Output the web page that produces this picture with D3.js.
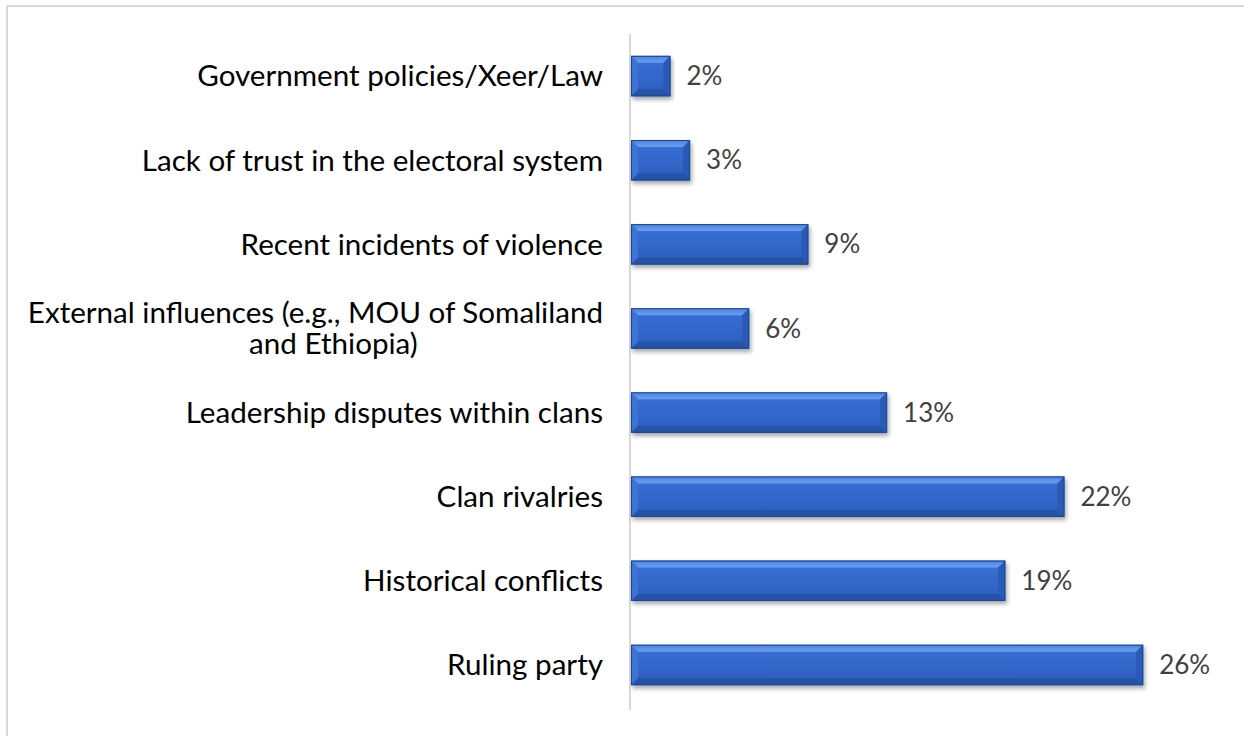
<!DOCTYPE html>
<html>
<head>
<meta charset="utf-8">
<script src="https://cdn.jsdelivr.net/npm/d3@7"></script>
<style>
  html, body { margin: 0; padding: 0; background: #fff; }
  svg { display: block; }
</style>
</head>
<body>
<svg id="chart" width="1244" height="736"></svg>
<script>
// Factors driving conflict, share of responses (top to bottom)
const categories = [
  "Government policies/Xeer/Law",
  "Lack of trust in the electoral system",
  "Recent incidents of violence",
  "External influences (e.g., MOU of Somaliland|and Ethiopia)",
  "Leadership disputes within clans",
  "Clan rivalries",
  "Historical conflicts",
  "Ruling party"
];
const values = [0.02, 0.03, 0.09, 0.06, 0.13, 0.22, 0.19, 0.26];
const valueLabels = ["2%", "3%", "9%", "6%", "13%", "22%", "19%", "26%"];

const svg = d3.select("#chart");
const FONT = "Lato, 'Open Sans', sans-serif";

// outer frame (only top and left edges fall inside the canvas)
svg.append("path")
  .attr("d", "M7,736 L7,6 L1244,6")
  .attr("fill", "none")
  .attr("stroke", "#d9d9d9")
  .attr("stroke-width", 2);

const x0 = 631, y0 = 34, y1 = 707;
const x = d3.scaleLinear().domain([0, 0.30]).range([x0, x0 + 591]);
const y = d3.scaleBand().domain(categories).range([y0, y1])
  .paddingInner(0.52).paddingOuter(0.26);

const defs = svg.append("defs");
const face = defs.append("linearGradient").attr("id", "face")
  .attr("x1", 0).attr("y1", 0).attr("x2", 0).attr("y2", 1);
face.append("stop").attr("offset", "0%").attr("stop-color", "#3a72d6");
face.append("stop").attr("offset", "100%").attr("stop-color", "#2b5dbd");
const topG = defs.append("linearGradient").attr("id", "bevTop")
  .attr("x1", 0).attr("y1", 0).attr("x2", 0).attr("y2", 1);
topG.append("stop").attr("offset", "0%").attr("stop-color", "#4a82e2");
topG.append("stop").attr("offset", "100%").attr("stop-color", "#6b9ff0");
const shadow = defs.append("filter").attr("id", "shadow")
  .attr("x", "-5%").attr("y", "-20%").attr("width", "115%").attr("height", "160%");
shadow.append("feDropShadow").attr("dx", 1.5).attr("dy", 3)
  .attr("stdDeviation", 2.2).attr("flood-color", "#000").attr("flood-opacity", 0.35);

// vertical category axis line
svg.append("line")
  .attr("x1", x0 - 1).attr("x2", x0 - 1)
  .attr("y1", y0).attr("y2", 710)
  .attr("stroke", "#d9d9d9").attr("stroke-width", 2);

const h = y.bandwidth();
const b = 7;
const bars = svg.append("g").selectAll("g").data(categories).join("g")
  .attr("filter", "url(#shadow)");

bars.each(function (c, i) {
  const g = d3.select(this);
  const bx = x(0), by = y(c), w = x(values[i]) - x(0);
  const bb = Math.min(b, w / 2);
  g.append("rect").attr("x", bx).attr("y", by).attr("width", w).attr("height", h)
    .attr("fill", "url(#face)");
  const poly = (pts, fill) => g.append("polygon")
    .attr("points", pts.map(p => p.join(",")).join(" ")).attr("fill", fill);
  poly([[bx, by], [bx + w, by], [bx + w - bb, by + bb], [bx + bb, by + bb]], "url(#bevTop)");
  poly([[bx, by + h], [bx + w, by + h], [bx + w - bb, by + h - bb], [bx + bb, by + h - bb]], "#2553a8");
  poly([[bx, by], [bx + bb, by + bb], [bx + bb, by + h - bb], [bx, by + h]], "#3c73d4");
  poly([[bx + w, by], [bx + w - bb, by + bb], [bx + w - bb, by + h - bb], [bx + w, by + h]], "#2a5ab5");
  g.append("rect").attr("x", bx + 0.5).attr("y", by + 0.5).attr("width", w - 1).attr("height", h - 1)
    .attr("fill", "none").attr("stroke", "#1d4690").attr("stroke-width", 1);
});

// value labels
svg.append("g").selectAll("text").data(categories).join("text")
  .attr("x", (c, i) => x(values[i]) + 16)
  .attr("y", c => y(c) + h / 2)
  .attr("dy", "0.35em")
  .attr("font-family", FONT).attr("font-size", 26).attr("fill", "#404040")
  .text((c, i) => valueLabels[i]);

// category labels (a "|" marks a line break)
const labelRight = 603;
svg.append("g").selectAll("g").data(categories).join("g").each(function (c) {
  const lines = c.split("|");
  const g = d3.select(this);
  const cy = y(c) + h / 2;
  const lh = 31;
  const t = g.selectAll("text").data(lines).join("text")
    .attr("font-family", FONT).attr("font-size", 29.6).attr("fill", "#000")
    .attr("y", (d, k) => cy + (k - (lines.length - 1) / 2) * lh)
    .attr("dy", "0.35em")
    .text(d => d);
  if (lines.length === 1) {
    t.attr("x", labelRight).attr("text-anchor", "end");
  } else {
    const w0 = t.nodes()[0].getComputedTextLength();
    t.attr("text-anchor", "middle")
      .attr("x", (d, k) => labelRight - w0 / 2 + (k > 0 ? 18 : 0));
  }
});
</script>
</body>
</html>
